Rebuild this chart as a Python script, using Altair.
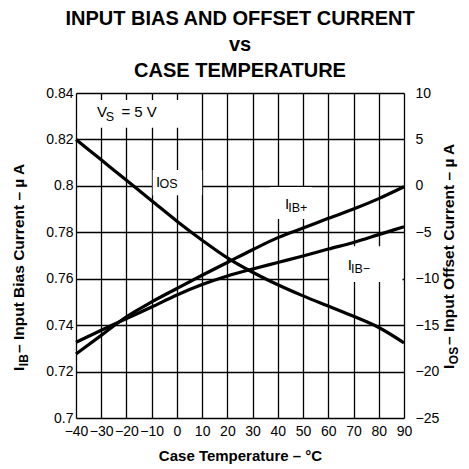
import altair as alt
import pandas as pd

# ---------------- data ----------------
temps = [-40, -30, -20, -10, 0, 10, 20, 30, 40, 50, 60, 70, 80, 90]
ib_plus = [0.7276, 0.7356, 0.7436, 0.7500, 0.7558, 0.7615, 0.7670, 0.7725,
           0.7777, 0.7818, 0.7860, 0.7900, 0.7945, 0.7996]
ib_minus = [0.7326, 0.7378, 0.7428, 0.7478, 0.7530, 0.7575, 0.7612, 0.7642,
            0.7670, 0.7698, 0.7728, 0.7756, 0.7790, 0.7824]
ios = [5.0, 2.8, 0.6, -1.6, -3.8, -5.85, -7.75, -9.3, -10.65, -11.85, -12.95,
       -14.05, -15.25, -16.9]

x_ticks = [-40, -30, -20, -10, 0, 10, 20, 30, 40, 50, 60, 70, 80, 90]
left_ticks = [0.70, 0.72, 0.74, 0.76, 0.78, 0.80, 0.82, 0.84]
right_ticks = [-25, -20, -15, -10, -5, 0, 5, 10]

# annotation texts (main glyph + subscript), in data units
main_text = ["V", "= 5 V", "I", "I", "I"]
main_temp = [-31.7, -22.0, -8.3, 42.8, 67.7]
main_val = [0.8297, 0.8297, 0.7996, 0.7899, 0.7637]
sub_text = ["S", "OS", "IB+", "IB\u2212"]
sub_temp = [-28.2, -6.9, 44.1, 69.0]
sub_val = [0.8281, 0.7989, 0.7889, 0.7626]

# white label backgrounds (data units)
box_t1 = [-34.5, -9.6, 37.0, 60.4]
box_t2 = [1.2, 10.0, 53.5, 89.4]
box_v1 = [0.8250, 0.7960, 0.7857, 0.7586]
box_v2 = [0.8370, 0.8068, 0.7995, 0.7740]

FONT = "Liberation Sans"

df_ib = pd.DataFrame({
    "temp": temps + temps,
    "value": ib_plus + ib_minus,
    "series": ["IB+"] * len(temps) + ["IB-"] * len(temps),
})
df_os = pd.DataFrame({"temp": temps, "value": ios})
df_main = pd.DataFrame({"temp": main_temp, "value": main_val, "text": main_text})
df_sub = pd.DataFrame({"temp": sub_temp, "value": sub_val, "text": sub_text})
df_box = pd.DataFrame({"t1": box_t1, "t2": box_t2, "v1": box_v1, "v2": box_v2})

xs = alt.Scale(domain=[-40, 90], nice=False, zero=False)
yl = alt.Scale(domain=[0.70, 0.84], nice=False, zero=False)
yr = alt.Scale(domain=[-25, 10], nice=False, zero=False)

x_axis = alt.Axis(values=x_ticks, title="Case Temperature \u2013 \u00b0C", grid=True,
                  gridColor="black", gridWidth=1.3, gridOpacity=1, domain=False,
                  ticks=False, labelFontSize=14, labelPadding=6, labelFont=FONT,
                  labelColor="black", labelFlush=False, labelOverlap=False,
                  titleFont=FONT, titleFontSize=15, titleFontWeight="bold",
                  titleColor="black", titlePadding=10)
yl_axis = alt.Axis(values=left_ticks, format=".2~f", title=None, grid=True,
                   gridColor="black", gridWidth=1.3, gridOpacity=1, domain=False,
                   ticks=False, labelFontSize=14, labelPadding=3, labelFont=FONT,
                   labelColor="black", labelFlush=False, labelOverlap=False)
yr_axis = alt.Axis(values=right_ticks, title=None, grid=False, orient="right",
                   domain=False, ticks=False, labelFontSize=14, labelPadding=11,
                   labelFont=FONT, labelColor="black", labelFlush=False,
                   labelOverlap=False)


def X(field):
    return alt.X(field, scale=xs, axis=x_axis)


def YL(field):
    return alt.Y(field, scale=yl, axis=yl_axis)


boxes = alt.Chart(df_box).mark_rect(fill="white").encode(
    x=X("t1:Q"), x2="t2:Q", y=YL("v1:Q"), y2="v2:Q")

ib_lines = alt.Chart(df_ib).mark_line(color="black", strokeWidth=3.2,
                                      interpolate="monotone").encode(
    x=X("temp:Q"), y=YL("value:Q"), detail="series:N")

main_lbl = alt.Chart(df_main).mark_text(align="left", baseline="alphabetic",
                                        fontSize=15, font=FONT, color="black").encode(
    x=X("temp:Q"), y=YL("value:Q"), text="text:N")
sub_lbl = alt.Chart(df_sub).mark_text(align="left", baseline="alphabetic",
                                      fontSize=12.5, font=FONT, color="black").encode(
    x=X("temp:Q"), y=YL("value:Q"), text="text:N")


def rot(txt, x, y, size):
    return alt.Chart(pd.DataFrame({"t": [txt]})).mark_text(
        angle=270, align="left", baseline="alphabetic", fontSize=size,
        fontWeight="bold", font=FONT, color="black").encode(
        x=alt.value(x), y=alt.value(y), text="t:N")


# rotated axis titles with subscripts (pixel positions relative to plot area)
lt_main = rot("I", -52, 278, 15.5)
lt_sub = rot("IB", -48, 273.2, 12)
lt_rest = rot("\u2013 Input Bias Current \u2013 \u00b5 A", -52, 260, 15.5)
rt_main = rot("I", 378, 276, 15.5)
rt_sub = rot("OS", 382, 271.2, 12)
rt_rest = rot("\u2013 Input Offset Current \u2013 \u00b5 A", 378, 252, 15.5)

left = alt.layer(boxes, ib_lines, main_lbl, sub_lbl, lt_main, lt_sub, lt_rest,
                 rt_main, rt_sub, rt_rest)

right = alt.Chart(df_os).mark_line(color="black", strokeWidth=3.2,
                                   interpolate="monotone").encode(
    x=X("temp:Q"), y=alt.Y("value:Q", scale=yr, axis=yr_axis))

chart = alt.layer(left, right).resolve_scale(y="independent").properties(
    width=328, height=325,
    padding={"left": 68, "top": 85, "right": 57, "bottom": 50},
    autosize=alt.AutoSizeParams(type="none"),
    title=alt.Title(["INPUT BIAS AND OFFSET CURRENT", "vs", "CASE TEMPERATURE"],
                    fontSize=20, lineHeight=26, font=FONT, fontWeight="bold",
                    anchor="middle", offset=5, color="black"),
).configure_view(stroke="black", strokeWidth=2.5).configure(background="white")

chart.save("out.html", embed_options={"renderer": "svg", "actions": False})
